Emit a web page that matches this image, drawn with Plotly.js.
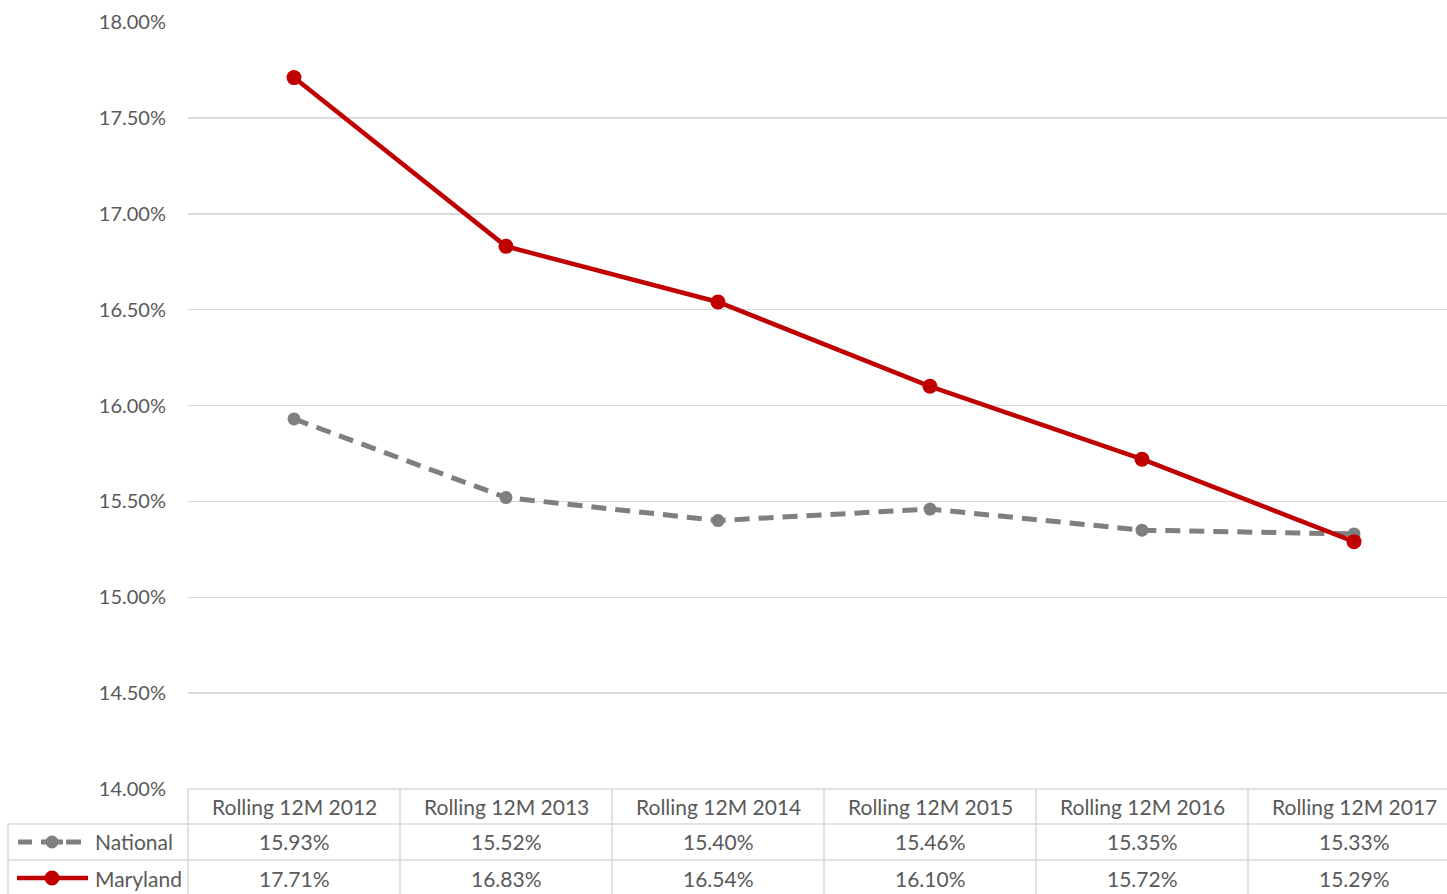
<!DOCTYPE html>
<html>
<head>
<meta charset="utf-8">
<script src="https://cdn.plot.ly/plotly-3.0.1.min.js"></script>
<style>html,body{margin:0;padding:0;background:#fff;}#chart{width:1447px;height:894px;}</style>
</head>
<body>
<div id="chart"></div>
<script>
const categories = ["Rolling 12M 2012","Rolling 12M 2013","Rolling 12M 2014","Rolling 12M 2015","Rolling 12M 2016","Rolling 12M 2017"];
const national = [15.93, 15.52, 15.40, 15.46, 15.35, 15.33];
const maryland = [17.71, 16.83, 16.54, 16.10, 15.72, 15.29];
const yTicks = [14, 14.5, 15, 15.5, 16, 16.5, 17, 17.5, 18];

const FONT = "Lato, 'Open Sans', sans-serif";
const TXT = "#595959";
const GRID = "#d9d9d9";
const RED = "#c00000";
const GRAY = "#7f7f7f";

const W = 1447, H = 894;
const mL = 188, mR = 0, mT = 22, mB = 105;
const plotH = H - mT - mB;
const plotW = W - mL - mR;
const colW = 212;
const py = Y => (H - mB - Y) / plotH;     // pixel row -> paper y
const px = X => (X - mL) / plotW;          // pixel col -> paper x

const traces = [
  {x: categories, y: national, name: "National", mode: "lines+markers",
   line: {color: GRAY, width: 5, dash: "15px,9px"}, marker: {color: GRAY, size: 13}},
  {x: categories, y: maryland, name: "Maryland", mode: "lines+markers",
   line: {color: RED, width: 4.5}, marker: {color: RED, size: 15}}
];

const rowHeader = py(807), rowNat = py(842), rowMd = py(878);
const annotations = [];
categories.forEach((c, i) => {
  annotations.push({x: c, xref: "x", y: rowHeader, yref: "paper", text: c, showarrow: false,
    font: {family: FONT, size: 21, color: TXT}, xanchor: "center", yanchor: "middle"});
  annotations.push({x: c, xref: "x", y: rowNat, yref: "paper", text: national[i].toFixed(2) + "%", showarrow: false,
    font: {family: FONT, size: 21, color: TXT}, xanchor: "center", yanchor: "middle"});
  annotations.push({x: c, xref: "x", y: rowMd, yref: "paper", text: maryland[i].toFixed(2) + "%", showarrow: false,
    font: {family: FONT, size: 21, color: TXT}, xanchor: "center", yanchor: "middle"});
});
[["National", rowNat], ["Maryland", rowMd]].forEach(([t, y]) => {
  annotations.push({x: px(93), xref: "paper", y: y, yref: "paper", text: t, showarrow: false,
    font: {family: FONT, size: 21, color: TXT}, xanchor: "left", yanchor: "middle"});
});

const shapes = [];
const L = {color: GRID, width: 1.5};
// horizontal table lines
shapes.push({type: "line", xref: "paper", yref: "paper", x0: 0, x1: 1, y0: py(789), y1: py(789), line: L});
shapes.push({type: "line", xref: "paper", yref: "paper", x0: px(8), x1: 1, y0: py(824), y1: py(824), line: L});
shapes.push({type: "line", xref: "paper", yref: "paper", x0: px(8), x1: 1, y0: py(860), y1: py(860), line: L});
// vertical table lines
shapes.push({type: "line", xref: "paper", yref: "paper", x0: 0, x1: 0, y0: py(789), y1: py(H + 2), line: L});
shapes.push({type: "line", xref: "paper", yref: "paper", x0: px(8), x1: px(8), y0: py(824), y1: py(H + 2), line: L});
for (let i = 1; i < categories.length; i++) {
  const xp = px(mL + i * colW);
  shapes.push({type: "line", xref: "paper", yref: "paper", x0: xp, x1: xp, y0: py(789), y1: py(H + 2), line: L});
}
// legend keys
shapes.push({type: "line", xref: "paper", yref: "paper", x0: px(18), x1: px(32), y0: rowNat, y1: rowNat,
  line: {color: GRAY, width: 5}});
shapes.push({type: "line", xref: "paper", yref: "paper", x0: px(41), x1: px(63), y0: rowNat, y1: rowNat,
  line: {color: GRAY, width: 5}});
shapes.push({type: "line", xref: "paper", yref: "paper", x0: px(66), x1: px(81), y0: rowNat, y1: rowNat,
  line: {color: GRAY, width: 5}});
shapes.push({type: "circle", xref: "paper", yref: "paper", x0: px(45.5), x1: px(58.5), y0: py(848.5), y1: py(835.5),
  fillcolor: GRAY, line: {color: GRAY, width: 0}});
shapes.push({type: "line", xref: "paper", yref: "paper", x0: px(17), x1: px(88), y0: rowMd, y1: rowMd,
  line: {color: RED, width: 4.5}});
shapes.push({type: "circle", xref: "paper", yref: "paper", x0: px(44.5), x1: px(59.5), y0: py(885.5), y1: py(870.5),
  fillcolor: RED, line: {color: RED, width: 0}});

const layout = {
  width: W, height: H,
  margin: {l: mL, r: mR, t: mT, b: mB, pad: 0},
  paper_bgcolor: "#fff", plot_bgcolor: "#fff",
  showlegend: false,
  xaxis: {type: "category", range: [-0.5, -0.5 + plotW / colW], showticklabels: false, ticks: "",
    showgrid: false, zeroline: false, showline: false, fixedrange: true},
  yaxis: {range: [14, 18], tickvals: yTicks, ticktext: yTicks.map(v => v.toFixed(2) + "%"),
    tickfont: {family: FONT, size: 20, color: TXT}, ticks: "", ticklabelstandoff: 21,
    showgrid: true, gridcolor: GRID, gridwidth: 1.5, zeroline: false, showline: false, fixedrange: true},
  annotations: annotations,
  shapes: shapes
};

Plotly.newPlot("chart", traces, layout, {displayModeBar: false, staticPlot: true});
</script>
</body>
</html>
